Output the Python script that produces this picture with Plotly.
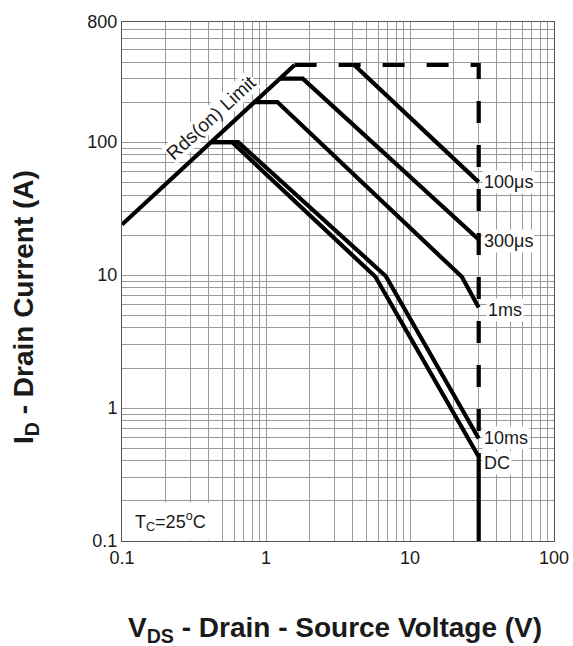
import plotly.graph_objects as go
import numpy as np

# ---- data (V in volts, I in amps) ----
rds_v = [0.1, 1.58]
rds_i = [24, 380]
limit_v = [1.58, 30, 30]
limit_i = [380, 380, 0.43]
us100_v = [4.1, 30]
us100_i = [380, 50]
us300_v = [1.25, 1.8, 30]
us300_i = [300, 300, 18.5]
ms1_v = [0.83, 1.2, 22.9, 30]
ms1_i = [200, 200, 9.7, 5.7]
ms10_v = [0.42, 0.64, 6.8, 30]
ms10_i = [100, 100, 9.8, 0.59]
dc_v = [0.42, 0.58, 5.75, 30, 30]
dc_i = [100, 100, 9.7, 0.43, 0.1]

curve_labels = ["100\u03bcs", "300\u03bcs", "1ms", "10ms", "DC"]
label_i = [50, 18, 5.5, 0.6, 0.385]
label_shift = [3, 3, 7, 3, 3]

x_major = [0.1, 1, 10, 100]
x_major_text = ["0.1", "1", "10", "100"]
y_major = [0.1, 1, 10, 100, 800]
y_major_text = ["0.1", "1", "10", "100", "800"]

# minor grid positions: 2..9 of each decade
x_minor = [m * 10.0 ** e for e in (-1, 0, 1) for m in range(2, 10)]
y_minor = [m * 10.0 ** e for e in (-1, 0, 1) for m in range(2, 10)] + [200, 300, 400, 500, 600, 700]

fig = go.Figure()
LW = 4.2
def add(vx, vy, dash=None):
    fig.add_trace(go.Scatter(x=vx, y=vy, mode="lines",
                             line=dict(color="black", width=LW, dash=dash),
                             showlegend=False, hoverinfo="skip"))

add(rds_v, rds_i)
add(limit_v, limit_i, dash="22px,22px")
add(us100_v, us100_i)
add(us300_v, us300_i)
add(ms1_v, ms1_i)
add(ms10_v, ms10_i)
add(dc_v, dc_i)

FONT = "Liberation Sans, Arial, sans-serif"
TXT = "#1a1a1a"
GRID = "#9a9a9a"
annots = []
for txt, yi, sh in zip(curve_labels, label_i, label_shift):
    annots.append(dict(x=np.log10(30), y=np.log10(yi), xref="x", yref="y",
                       text=txt, showarrow=False, xanchor="left", yanchor="middle",
                       xshift=sh, font=dict(family=FONT, size=18, color=TXT),
                       bgcolor="white", borderpad=1))
annots.append(dict(x=-0.38, y=2.188, xref="x", yref="y", text="Rds(on) Limit",
                   showarrow=False, textangle=-42.7, xanchor="center", yanchor="middle",
                   font=dict(family=FONT, size=19, color=TXT), bgcolor="white", borderpad=0))
annots.append(dict(x=-0.665, y=-0.85, xref="x", yref="y",
                   text="T<sub>C</sub>=25<sup>o</sup>C", showarrow=False,
                   xanchor="center", yanchor="middle",
                   font=dict(family=FONT, size=18, color=TXT),
                   bgcolor="white", borderpad=6))
annots.append(dict(x=0.493, y=-0.171, xref="paper", yref="paper",
                   text="<b>V<sub>DS</sub> - Drain - Source Voltage (V)</b>",
                   xanchor="center", yanchor="middle",
                   showarrow=False, font=dict(family=FONT, size=28, color=TXT)))
annots.append(dict(x=-0.222, y=0.451, xref="paper", yref="paper",
                   text="<b>I<sub>D</sub> - Drain Current (A)</b>", textangle=-90,
                   xanchor="center", yanchor="middle",
                   showarrow=False, font=dict(family=FONT, size=28, color=TXT)))

fig.update_layout(
    width=573, height=646,
    margin=dict(l=122, r=19, t=22, b=105, autoexpand=False),
    paper_bgcolor="white", plot_bgcolor="white",
    annotations=annots,
    font=dict(family=FONT, size=18, color=TXT),
)
fig.update_xaxes(type="log", range=[-1, 2], tickmode="array", tickvals=x_major, ticktext=x_major_text,
                 showgrid=True, gridcolor=GRID, gridwidth=1, zeroline=False,
                 minor=dict(tickmode="array", tickvals=x_minor, showgrid=True,
                            gridcolor=GRID, gridwidth=1, ticks=""),
                 showline=True, linecolor="#555", linewidth=1, mirror=True, ticks="",
                 tickfont=dict(size=18), automargin=False)
fig.update_yaxes(type="log", range=[-1, np.log10(800)], tickmode="array", tickvals=y_major, ticktext=y_major_text,
                 showgrid=True, gridcolor=GRID, gridwidth=1, zeroline=False,
                 minor=dict(tickmode="array", tickvals=y_minor, showgrid=True,
                            gridcolor=GRID, gridwidth=1, ticks=""),
                 showline=True, linecolor="#555", linewidth=1, mirror=True, ticks="",
                 tickfont=dict(size=18), automargin=False)

fig.write_html("out.html", config={"displayModeBar": False},
               post_script="document.body.style.margin='0';document.body.style.padding='0';")
